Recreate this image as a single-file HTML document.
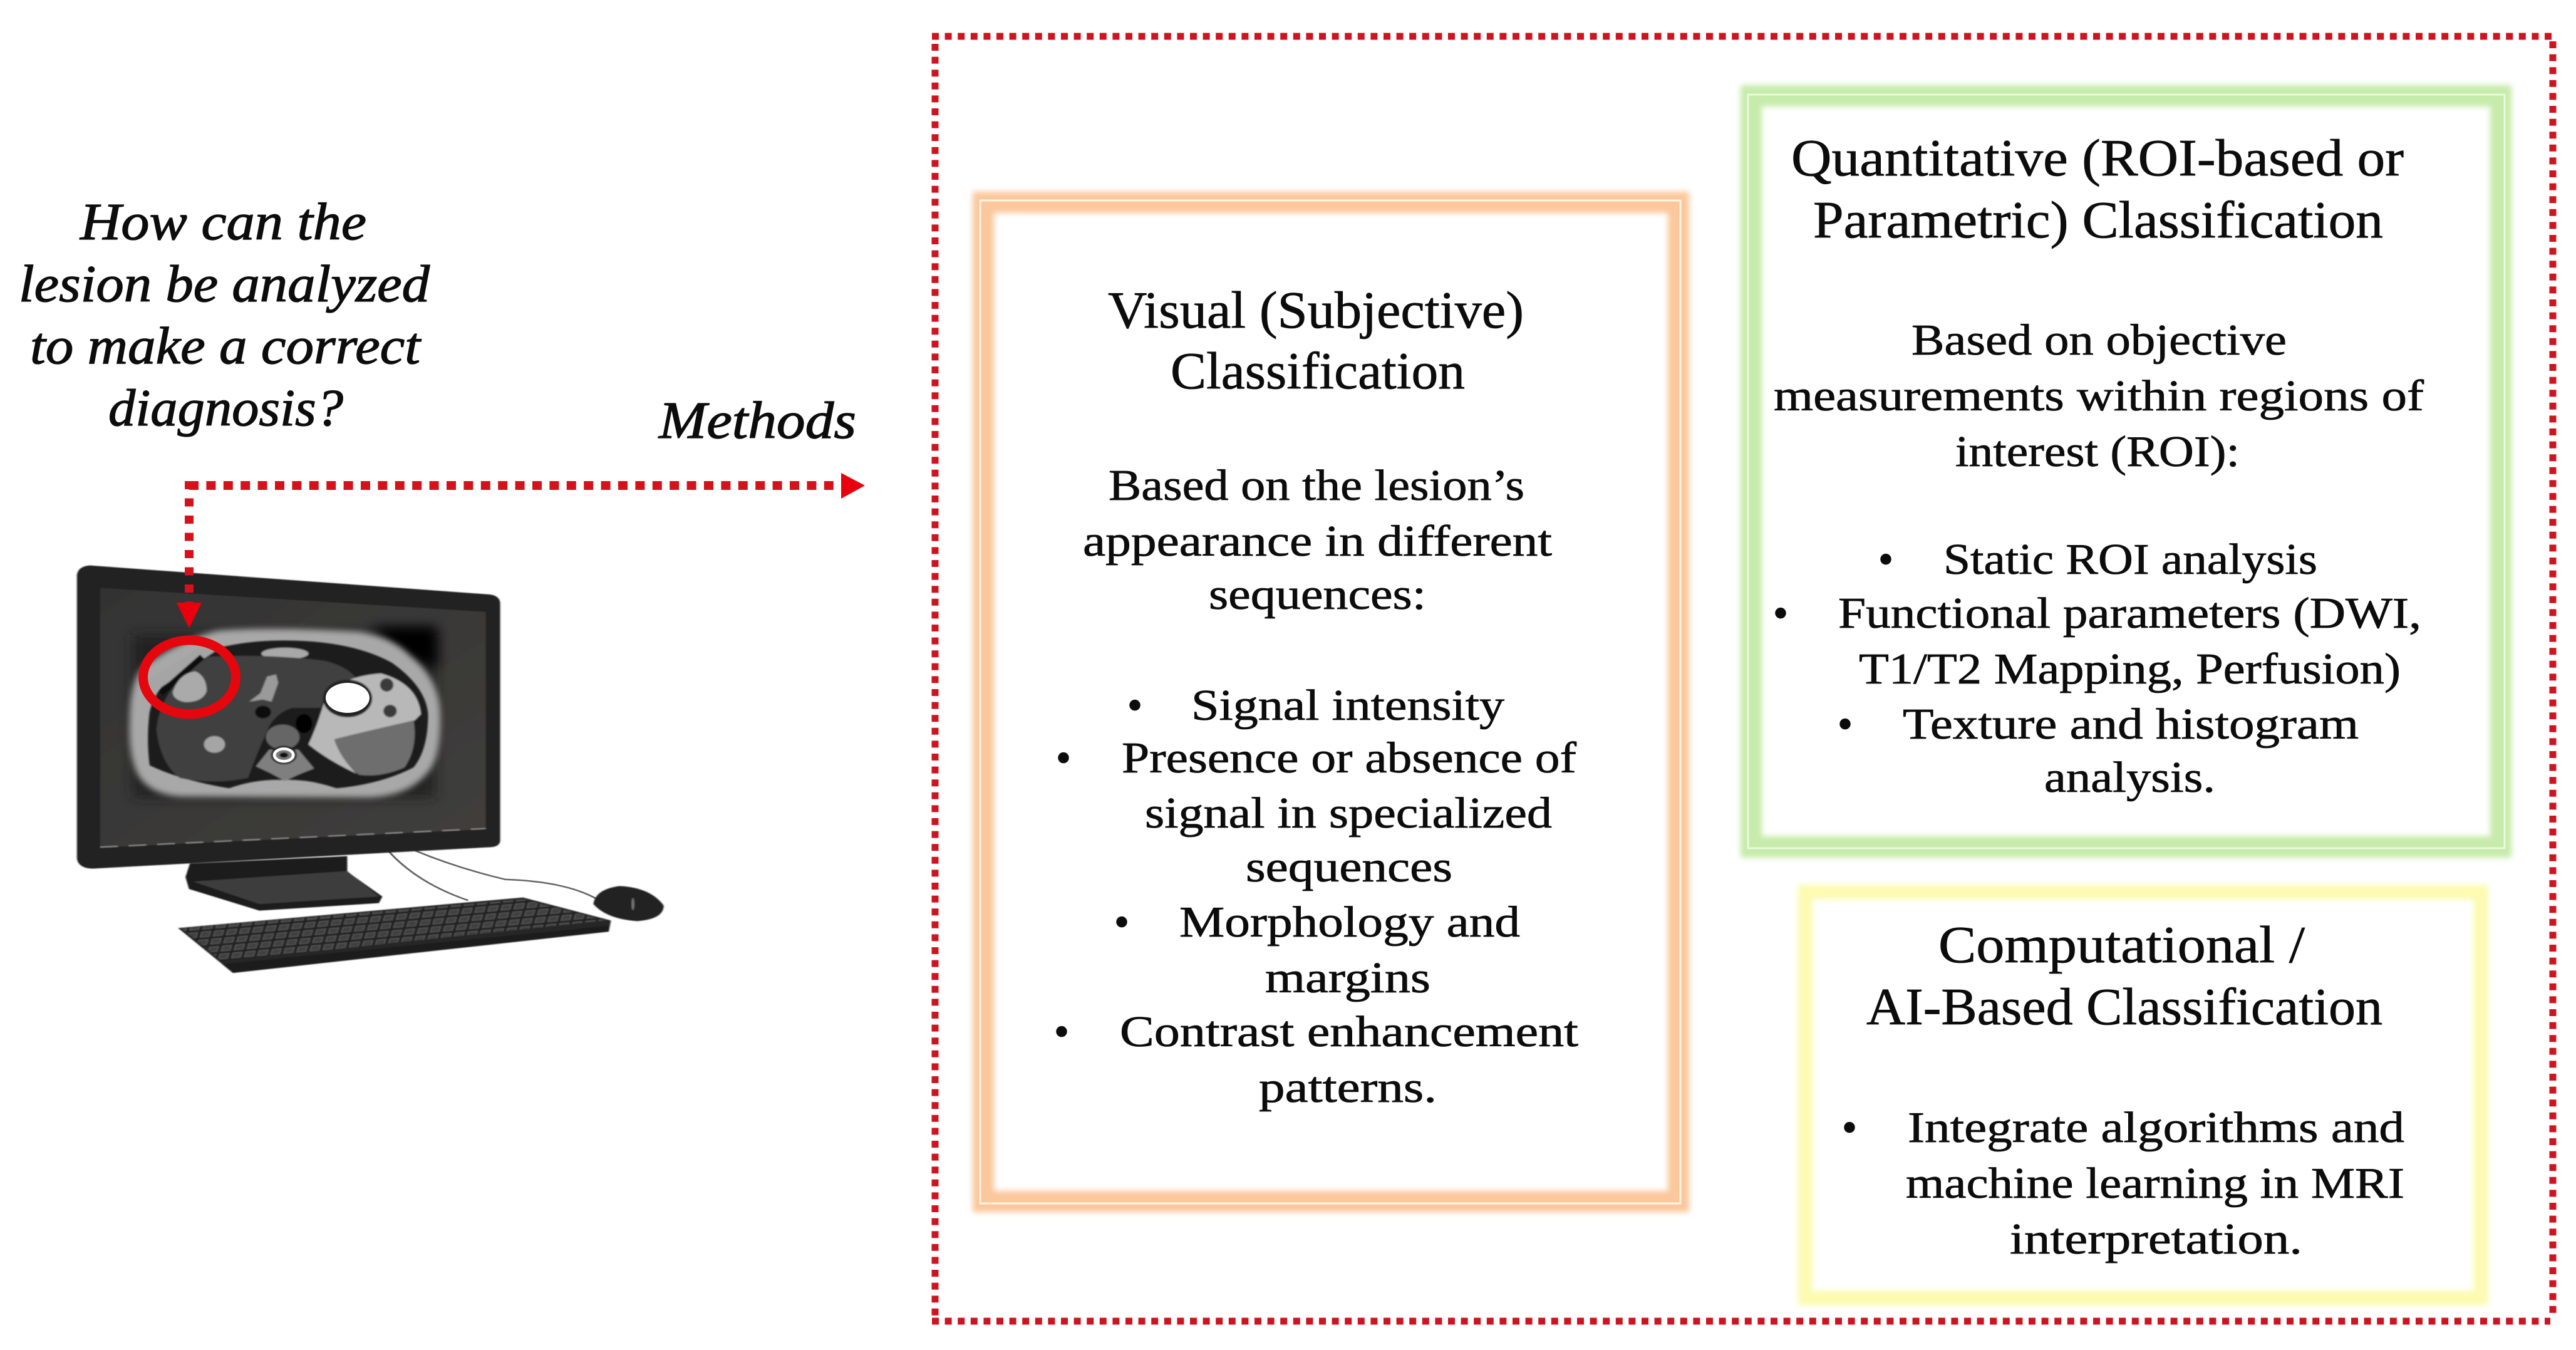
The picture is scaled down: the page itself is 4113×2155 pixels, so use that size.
<!DOCTYPE html>
<html><head><meta charset="utf-8"><title>Lesion analysis methods</title>
<style>
html,body{margin:0;padding:0;background:#fff;width:4113px;height:2155px;overflow:hidden}
svg{display:block}
text{font-family:"Liberation Serif",serif;fill:#0c0c0c;stroke:#0c0c0c;stroke-width:.8px}
.t{font-size:84px}.b{font-size:70px}.i{font-size:84px;font-style:italic;stroke-width:1.3px}
</style></head><body>
<svg width="4113" height="2155" viewBox="0 0 4113 2155" xmlns="http://www.w3.org/2000/svg">
<defs>
<filter id="g" x="-6%" y="-6%" width="112%" height="112%"><feGaussianBlur stdDeviation="4.5"/></filter>
<filter id="s" x="-20%" y="-20%" width="140%" height="140%"><feGaussianBlur stdDeviation="1.5"/></filter>
<filter id="b2" x="-10%" y="-10%" width="120%" height="120%"><feGaussianBlur stdDeviation="3.5"/></filter>
<filter id="b3" x="-10%" y="-10%" width="120%" height="120%"><feGaussianBlur stdDeviation="5"/></filter>
<filter id="b8" x="-20%" y="-20%" width="140%" height="140%"><feGaussianBlur stdDeviation="14"/></filter>
<filter id="b30" x="-30%" y="-30%" width="160%" height="160%"><feGaussianBlur stdDeviation="28"/></filter>
<pattern id="keys" width="30" height="26" patternUnits="userSpaceOnUse" patternTransform="rotate(-7.5) skewX(-20)">
<rect width="30" height="26" fill="#222"/><rect x="3" y="3" width="23" height="19" fill="#555"/><rect x="6" y="6" width="17" height="13" fill="#404040"/>
</pattern>
<linearGradient id="scr" x1="0" y1="0" x2="1" y2="1"><stop offset="0" stop-color="#333"/><stop offset="1" stop-color="#403e3c"/></linearGradient>
</defs>

<!-- outer dotted frame -->
<g fill="none" stroke="#cc1520" stroke-width="11" stroke-dasharray="11 9.6">
<path d="M1488 58H4080"/><path d="M1493 70V2109"/><path d="M4076 66V2100"/><path d="M1488 2109H4072"/>
</g>

<!-- orange -->
<rect x="1570" y="323" width="1110" height="1595" fill="none" stroke="#fbc79c" stroke-width="34" filter="url(#g)"/>
<rect x="1565" y="320" width="1118" height="1601" fill="none" stroke="#fff4e2" stroke-width="3"/>
<!-- green -->
<rect x="2796" y="153" width="1197" height="1199" fill="none" stroke="#c6ebaa" stroke-width="34" filter="url(#g)"/>
<rect x="2791" y="151" width="1208" height="1203" fill="none" stroke="#ebfadf" stroke-width="3"/>
<!-- yellow -->
<rect x="2882" y="1424" width="1079" height="648" fill="none" stroke="#fcfbb0" stroke-width="23" filter="url(#g)"/>

<!-- orange text -->
<text class="t" x="1769" y="523" textLength="664" lengthAdjust="spacingAndGlyphs">Visual (Subjective)</text>
<text class="t" x="1869" y="620" textLength="470" lengthAdjust="spacingAndGlyphs">Classification</text>
<text class="b" x="1770" y="798" textLength="664" lengthAdjust="spacingAndGlyphs">Based on the lesion’s</text>
<text class="b" x="1729" y="887" textLength="749" lengthAdjust="spacingAndGlyphs">appearance in different</text>
<text class="b" x="1930" y="972" textLength="347" lengthAdjust="spacingAndGlyphs">sequences:</text>
<text class="b" x="1812" y="1149" text-anchor="middle">•</text>
<text class="b" x="1902" y="1149" textLength="500" lengthAdjust="spacingAndGlyphs">Signal intensity</text>
<text class="b" x="1698" y="1233" text-anchor="middle">•</text>
<text class="b" x="1791" y="1233" textLength="726" lengthAdjust="spacingAndGlyphs">Presence or absence of</text>
<text class="b" x="1828" y="1321" textLength="650" lengthAdjust="spacingAndGlyphs">signal in specialized</text>
<text class="b" x="1989" y="1407" textLength="330" lengthAdjust="spacingAndGlyphs">sequences</text>
<text class="b" x="1791" y="1495" text-anchor="middle">•</text>
<text class="b" x="1883" y="1495" textLength="544" lengthAdjust="spacingAndGlyphs">Morphology and</text>
<text class="b" x="2020" y="1584" textLength="264" lengthAdjust="spacingAndGlyphs">margins</text>
<text class="b" x="1695" y="1670" text-anchor="middle">•</text>
<text class="b" x="1788" y="1670" textLength="732" lengthAdjust="spacingAndGlyphs">Contrast enhancement</text>
<text class="b" x="2010" y="1759" textLength="284" lengthAdjust="spacingAndGlyphs">patterns.</text>

<!-- green text -->
<text class="t" x="2860" y="280" textLength="978" lengthAdjust="spacingAndGlyphs">Quantitative (ROI-based or</text>
<text class="t" x="2895" y="379" textLength="910" lengthAdjust="spacingAndGlyphs">Parametric) Classification</text>
<text class="b" x="3052" y="566" textLength="599" lengthAdjust="spacingAndGlyphs">Based on objective</text>
<text class="b" x="2832" y="655" textLength="1038" lengthAdjust="spacingAndGlyphs">measurements within regions of</text>
<text class="b" x="3122" y="744" textLength="454" lengthAdjust="spacingAndGlyphs">interest (ROI):</text>
<text class="b" x="3011" y="916" text-anchor="middle">•</text>
<text class="b" x="3103" y="916" textLength="597" lengthAdjust="spacingAndGlyphs">Static ROI analysis</text>
<text class="b" x="2843" y="1002" text-anchor="middle">•</text>
<text class="b" x="2935" y="1002" textLength="931" lengthAdjust="spacingAndGlyphs">Functional parameters (DWI,</text>
<text class="b" x="2968" y="1091" textLength="865" lengthAdjust="spacingAndGlyphs">T1/T2 Mapping, Perfusion)</text>
<text class="b" x="2946" y="1179" text-anchor="middle">•</text>
<text class="b" x="3038" y="1179" textLength="728" lengthAdjust="spacingAndGlyphs">Texture and histogram</text>
<text class="b" x="3264" y="1264" textLength="273" lengthAdjust="spacingAndGlyphs">analysis.</text>

<!-- yellow text -->
<text class="t" x="3095" y="1536" textLength="585" lengthAdjust="spacingAndGlyphs">Computational /</text>
<text class="t" x="2980" y="1635" textLength="824" lengthAdjust="spacingAndGlyphs">AI-Based Classification</text>
<text class="b" x="2953" y="1823" text-anchor="middle">•</text>
<text class="b" x="3046" y="1823" textLength="793" lengthAdjust="spacingAndGlyphs">Integrate algorithms and</text>
<text class="b" x="3043" y="1912" textLength="796" lengthAdjust="spacingAndGlyphs">machine learning in MRI</text>
<text class="b" x="3209" y="2001" textLength="467" lengthAdjust="spacingAndGlyphs">interpretation.</text>

<!-- left text -->
<text class="i" x="128" y="382" textLength="457" lengthAdjust="spacingAndGlyphs">How can the</text>
<text class="i" x="30" y="481" textLength="656" lengthAdjust="spacingAndGlyphs">lesion be analyzed</text>
<text class="i" x="48" y="580" textLength="623" lengthAdjust="spacingAndGlyphs">to make a correct</text>
<text class="i" x="173" y="679" textLength="375" lengthAdjust="spacingAndGlyphs">diagnosis?</text>
<text class="i" x="1052" y="699" textLength="315" lengthAdjust="spacingAndGlyphs">Methods</text>

<!-- computer, drawn in stretched crop coordinates -->
<g transform="translate(0,850) scale(.7018,.4783)">
<path d="M885 1065Q950 1170 1065 1228" fill="none" stroke="#666" stroke-width="5"/>
<path d="M945 1062Q1040 1120 1150 1158Q1290 1165 1360 1225" fill="none" stroke="#666" stroke-width="5"/>
<g filter="url(#s)">
<path d="M432 1105L790 1080V1132L870 1215L862 1237L590 1262L430 1190L422 1150Z" fill="#1d1d1d"/>
<path d="M440 1165L790 1130L862 1215L590 1240Z" fill="#3c3c3c"/>
<path d="M205 110L1115 207Q1138 212 1138 238V1030Q1136 1048 1118 1050L210 1122Q178 1120 175 1088V142Q178 112 205 110Z" fill="#202020"/>
<path d="M228 185L1105 265V990L228 1052Z" fill="url(#scr)"/>
<path d="M228 1050L1105 988" stroke="#8a8a8a" stroke-width="4" stroke-dasharray="40 25" fill="none"/>
<path d="M405 1320L1190 1218L1390 1295L1385 1332L530 1470L505 1440Z" fill="#262626"/>
<path d="M412 1320L1190 1224L1378 1295L505 1430Z" fill="url(#keys)"/>
<path d="M505 1440L1385 1312V1332L530 1470Z" fill="#1e1e1e"/>
<path d="M1350 1240Q1355 1190 1410 1180Q1480 1185 1510 1245Q1510 1290 1450 1297Q1380 1290 1350 1240Z" fill="#242424"/>
<ellipse cx="1440" cy="1240" rx="3" ry="20" fill="#777"/>
</g>
</g>

<!-- MRI -->
<g transform="translate(180,980) scale(.3571,.3333)">
<path d="M90 100H1440V880H90Z" fill="#1a1a1a" filter="url(#b30)" opacity=".8"/>
<path d="M1150 60H1450V260L1300 200Z" fill="#000" filter="url(#b30)"/>
<path d="M75 520Q75 330 130 260Q280 130 470 80Q700 60 1100 85Q1250 110 1330 200Q1460 310 1465 480Q1470 700 1400 770Q1320 870 1150 880L300 875Q140 860 100 740Q70 650 75 520Z" fill="#a8a8a8" filter="url(#b8)"/>
<g filter="url(#b2)">
<path d="M165 470Q200 300 430 175Q620 115 860 130Q1100 145 1250 235Q1400 350 1410 480Q1410 650 1345 735Q1200 815 1000 835Q880 790 760 795Q640 790 520 835Q300 795 165 725Q150 600 165 470Z" fill="#1c1c1c"/>
<ellipse cx="770" cy="190" rx="105" ry="28" fill="#a8a8a8"/>
<path d="M120 340L420 140L470 170L190 370Z" fill="#a5a5a5"/>
<path d="M195 555Q215 340 430 205Q700 190 950 225Q1060 255 1095 320Q950 360 930 450L800 450Q720 480 690 560Q640 680 605 785Q450 820 300 785Q215 720 195 555Z" fill="#3f3f3f"/>
<path d="M215 380L400 205" stroke="#0c0c0c" stroke-width="28"/>
<path d="M945 420Q1000 300 1200 285Q1365 335 1378 480L1350 510L1200 560L1000 600Q1010 680 1090 765Q960 700 875 625Q920 520 945 420Z" fill="#b8b8b8"/>
<path d="M990 600Q1100 570 1345 510Q1365 640 1305 735Q1200 785 1100 770Q1020 700 990 600Z" fill="#6e6e6e"/>
<ellipse cx="1050" cy="405" rx="110" ry="90" fill="#222"/>
<ellipse cx="1225" cy="340" rx="30" ry="32" fill="#3a3a3a"/>
<ellipse cx="1240" cy="465" rx="30" ry="30" fill="#3a3a3a"/>
<path d="M690 300l40-10l10 40l-30 90l-40-10l-60 10l50-40z" fill="#9a9a9a"/>
<ellipse cx="855" cy="525" rx="37" ry="45" fill="#050505"/>
<ellipse cx="672" cy="470" rx="36" ry="30" fill="#080808"/>
<ellipse cx="760" cy="590" rx="75" ry="60" fill="#666"/>
<path d="M640 730L700 650L830 650L900 740L830 770L770 800L700 760Z" fill="#7f7f7f"/>
<ellipse cx="765" cy="676" rx="54" ry="40" fill="none" stroke="#111" stroke-width="8"/>
<ellipse cx="765" cy="676" rx="20" ry="13" fill="#111"/>
<path d="M268 375Q295 285 370 275Q420 300 420 370Q400 425 320 422Q270 410 268 375Z" fill="#aaa"/>
<ellipse cx="455" cy="625" rx="47" ry="40" fill="#a5a5a5"/>
</g>
<ellipse cx="1050" cy="402" rx="98" ry="72" fill="#fff"/>
<ellipse cx="765" cy="676" rx="42" ry="30" fill="none" stroke="#fff" stroke-width="13"/>
</g>

<!-- ring -->
<ellipse cx="302.5" cy="1081" rx="74" ry="59" fill="none" stroke="#e6060e" stroke-width="15"/>

<!-- connector arrows -->
<path d="M302 775H1345" fill="none" stroke="#d3121c" stroke-width="14" stroke-dasharray="15 12.4"/>
<path d="M302 768V962" fill="none" stroke="#d3121c" stroke-width="14" stroke-dasharray="13 14.5"/>
<path d="M282 962H322L302 1003Z" fill="#e8000d"/>
<path d="M1343 755L1381 775L1343 796Z" fill="#e8000d"/>
</svg>
</body></html>
